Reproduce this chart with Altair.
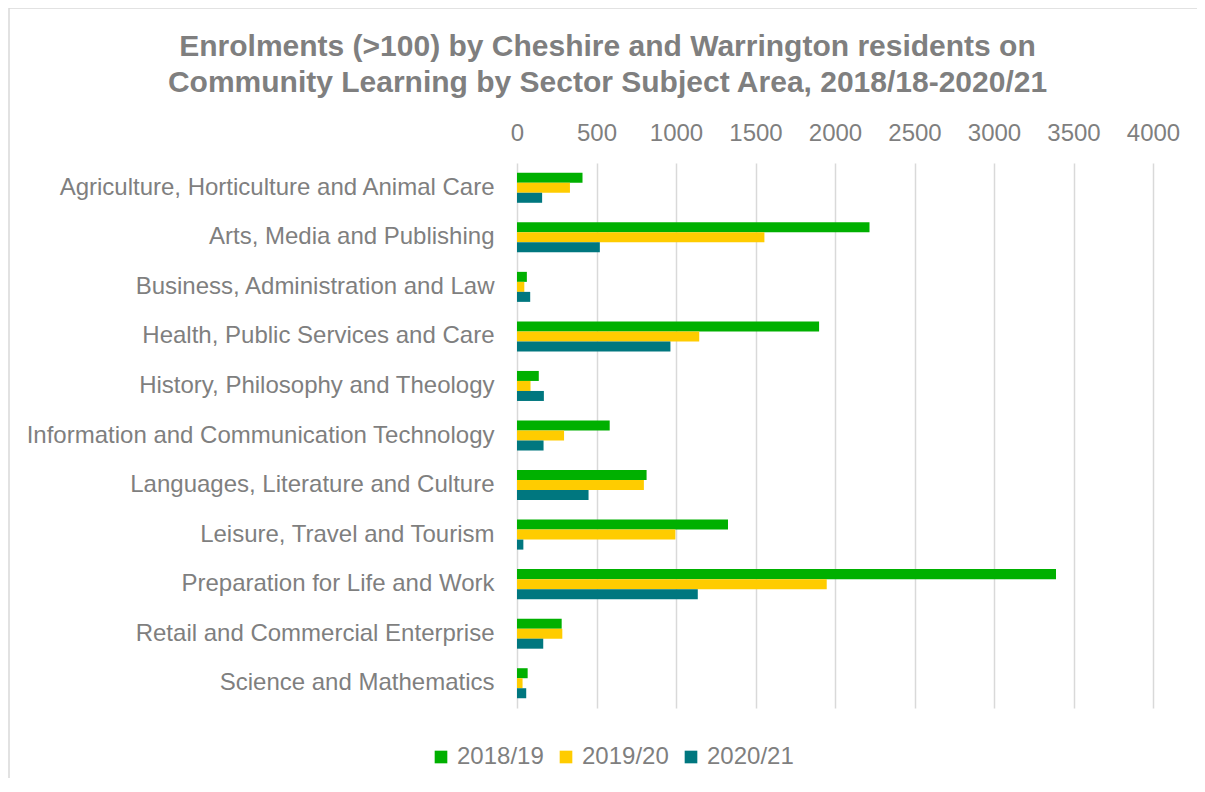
import altair as alt
import pandas as pd

title_lines = [
    "Enrolments (>100) by Cheshire and Warrington residents on",
    "Community Learning by Sector Subject Area, 2018/18-2020/21",
]
categories = [
    "Agriculture, Horticulture and Animal Care",
    "Arts, Media and Publishing",
    "Business, Administration and Law",
    "Health, Public Services and Care",
    "History, Philosophy and Theology",
    "Information and Communication Technology",
    "Languages, Literature and Culture",
    "Leisure, Travel and Tourism",
    "Preparation for Life and Work",
    "Retail and Commercial Enterprise",
    "Science and Mathematics",
]
years = ["2018/19", "2019/20", "2020/21"]
v_2018_19 = [412, 2217, 62, 1900, 137, 583, 815, 1327, 3390, 281, 67]
v_2019_20 = [333, 1556, 46, 1146, 85, 296, 798, 996, 1948, 285, 35]
v_2020_21 = [158, 521, 83, 965, 169, 167, 450, 40, 1137, 165, 58]
x_ticks = [0, 500, 1000, 1500, 2000, 2500, 3000, 3500, 4000]
colors = ["#00b000", "#ffcc00", "#00777f"]

rows = []
for yr, vals in zip(years, [v_2018_19, v_2019_20, v_2020_21]):
    for c, v in zip(categories, vals):
        rows.append({"Subject": c, "Year": yr, "Enrolments": v})
df = pd.DataFrame(rows)

GRAY = "#7f7f7f"
FONT = "Liberation Sans"

bars = alt.Chart(df).mark_bar().encode(
    y=alt.Y("Subject:N", sort=categories, title=None,
            scale=alt.Scale(paddingInner=0.394, paddingOuter=0.197),
            axis=alt.Axis(ticks=False, domain=False, labelPadding=23,
                          labelFontSize=24, labelColor=GRAY, labelFont=FONT,
                          labelLimit=600)),
    yOffset=alt.YOffset("Year:N", sort=years),
    x=alt.X("Enrolments:Q", title=None,
            scale=alt.Scale(domain=[0, 4000], nice=False),
            axis=alt.Axis(orient="top", values=x_ticks, format="d",
                          labelOverlap=False, labelFlush=False,
                          ticks=False, domain=False, labelPadding=18,
                          labelFontSize=24, labelColor=GRAY, labelFont=FONT,
                          grid=True, gridColor="#d9d9d9", gridWidth=1.5)),
    color=alt.Color("Year:N", sort=years,
                    scale=alt.Scale(domain=years, range=colors),
                    legend=alt.Legend(title=None, orient="none", direction="horizontal",
                                      legendX=-88, legendY=582,
                                      symbolType="square", symbolSize=160,
                                      symbolStrokeWidth=0,
                                      labelFontSize=24, labelColor=GRAY, labelFont=FONT,
                                      labelOffset=4, columnPadding=10)),
)

one = pd.DataFrame({"k": [0]})
top_line = alt.Chart(one).mark_rule(color="#d9d9d9", strokeWidth=1.5).encode(
    x=alt.value(-508), x2=alt.value(700), y=alt.value(-155))
left_line = alt.Chart(one).mark_rule(color="#d9d9d9", strokeWidth=1.5).encode(
    x=alt.value(-508), y=alt.value(-155), y2=alt.value(640))
title = alt.Chart(one).mark_text(
    font=FONT, fontSize=30, fontWeight="bold", color=GRAY,
    align="center", baseline="alphabetic", lineHeight=36,
).encode(x=alt.value(90.5), y=alt.value(-107), text=alt.value(title_lines))

chart = alt.layer(bars, top_line, left_line, title).properties(
    width=636, height=545,
    autosize=alt.AutoSizeParams(type="none"),
    padding={"left": 509, "top": 155, "right": 44, "bottom": 70},
).configure_view(stroke=None)

chart.save("out.html", embed_options={"renderer": "svg", "actions": False})
